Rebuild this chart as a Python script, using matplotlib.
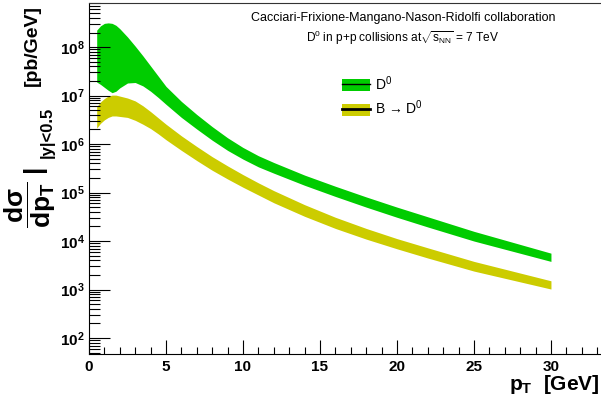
import numpy as np
import matplotlib
matplotlib.use("Agg")
import matplotlib.pyplot as plt
from matplotlib.patches import Patch
from matplotlib.lines import Line2D
from matplotlib.ticker import LogLocator, MultipleLocator, NullFormatter, FixedLocator

plt.rcParams['font.family'] = ['Liberation Sans', 'DejaVu Sans']
plt.rcParams['mathtext.fontset'] = 'custom'
plt.rcParams['mathtext.rm'] = 'Liberation Sans'
plt.rcParams['mathtext.it'] = 'Liberation Sans'
plt.rcParams['mathtext.bf'] = 'Liberation Sans:bold'

# ---- data (log10 of dsigma/dpT in pb/GeV) ----
pt = [0.5, 0.75, 1.0, 1.25, 1.5, 1.75, 2.0, 2.5, 3.0, 3.5, 4.0, 4.5, 5.0, 6.0, 7.0,
      8.0, 9.0, 10.0, 11.0, 12.0, 14.0, 16.0, 18.0, 20.0, 22.0, 25.0, 30.0]
d0_hi_log = [8.35, 8.44, 8.49, 8.50, 8.49, 8.45, 8.38, 8.21, 8.02, 7.82, 7.61, 7.40,
             7.19, 6.88, 6.61, 6.36, 6.13, 5.93, 5.76, 5.62, 5.36, 5.13, 4.91, 4.70,
             4.50, 4.20, 3.75]
d0_lo_log = [7.28, 7.23, 7.17, 7.11, 7.06, 7.09, 7.16, 7.26, 7.27, 7.20, 7.09, 6.96,
             6.82, 6.55, 6.31, 6.08, 5.87, 5.69, 5.53, 5.40, 5.15, 4.92, 4.70, 4.49,
             4.29, 4.00, 3.58]
b_hi_log = [6.77, 6.87, 6.94, 6.99, 7.01, 7.01, 6.99, 6.95, 6.89, 6.79, 6.67, 6.54,
            6.41, 6.17, 5.95, 5.74, 5.55, 5.37, 5.20, 5.04, 4.75, 4.49, 4.26, 4.05,
            3.86, 3.58, 3.18]
b_lo_log = [6.33, 6.43, 6.50, 6.55, 6.58, 6.58, 6.57, 6.55, 6.49, 6.41, 6.32, 6.21,
            6.09, 5.87, 5.66, 5.46, 5.28, 5.11, 4.95, 4.79, 4.51, 4.26, 4.04, 3.84,
            3.65, 3.38, 3.01]

x_major = [0, 5, 10, 15, 20, 25, 30]
y_major = [1e2, 1e3, 1e4, 1e5, 1e6, 1e7, 1e8]
green = '#00cc00'
yellow = '#cccc00'

W, H = 601, 407
fig = plt.figure(figsize=(W / 100, H / 100), dpi=100)
ax = fig.add_axes([89 / W, 53 / H, (W - 89) / W, (354 - 3) / H])

x = np.array(pt)
ax.fill_between(x, 10 ** np.array(d0_lo_log), 10 ** np.array(d0_hi_log),
                color=green, lw=0)
ax.fill_between(x, 10 ** np.array(b_lo_log), 10 ** np.array(b_hi_log),
                color=yellow, lw=0)

ax.set_yscale('log')
ax.set_xlim(0, 33.25)
ax.set_ylim(10 ** 1.67, 10 ** 8.91)

ax.xaxis.set_major_locator(FixedLocator(x_major))
ax.xaxis.set_minor_locator(MultipleLocator(1))
ax.yaxis.set_major_locator(FixedLocator(y_major))
ax.yaxis.set_minor_locator(LogLocator(base=10, subs=np.arange(2, 10), numticks=20))
ax.yaxis.set_minor_formatter(NullFormatter())

ax.tick_params(axis='both', which='both', direction='in', top=False, right=False,
               width=0.8, colors='black')
ax.tick_params(axis='y', which='major', length=15, labelsize=11, pad=3)
ax.tick_params(axis='y', which='minor', length=8)
ax.tick_params(axis='x', which='major', length=10, labelsize=11, pad=4)
ax.tick_params(axis='x', which='minor', length=5)
for lab in ax.get_xticklabels() + ax.get_yticklabels():
    lab.set_fontweight('bold')

ax.spines['right'].set_visible(False)
for s in ['left', 'bottom', 'top']:
    ax.spines[s].set_linewidth(0.8)
ax.spines['top'].set_color('#333333')

# x axis title
fig.text(600 / W, 1 - 384 / H, r'$\mathbf{p_{T}}$  [GeV]', ha='right', va='center',
         fontsize=15, fontweight='bold')

# y axis title, built from pieces
fig.text(30 / W, 1 - 205 / H, r'$\mathbf{\dfrac{d\sigma}{dp_{T}}}$', rotation=90,
         ha='center', va='center', fontsize=19)
fig.text(34 / W, 1 - 168 / H, '|', rotation=90, ha='center', va='center',
         fontsize=19, fontweight='bold')
fig.text(47 / W, 1 - 132 / H, '|y|<0.5', rotation=90, ha='center', va='center',
         fontsize=12, fontweight='bold')
fig.text(32 / W, 1 - 46 / H, '[pb/GeV]', rotation=90, ha='center', va='center',
         fontsize=14, fontweight='bold')

# header texts
fig.text(403 / W, 1 - 18 / H, 'Cacciari-Frixione-Mangano-Nason-Ridolfi collaboration',
         ha='center', va='center', fontsize=9)
fig.text(403 / W, 1 - 38 / H,
         r'D$^{0}$ in p+p collisions at$\sqrt{\mathrm{s}_{\mathrm{NN}}}$ = 7 TeV',
         ha='center', va='center', fontsize=8.6)

# legend
h1 = (Patch(facecolor=green, edgecolor='none'), Line2D([], [], color='black', lw=1))
h2 = (Patch(facecolor=yellow, edgecolor='none'), Line2D([], [], color='black', lw=2))
fig.legend([h1, h2], [r'D$^{0}$', 'B \u2192 D$^{0}$'], loc='upper left',
           bbox_to_anchor=(342 / W, 1 - 74 / H), frameon=False, fontsize=10,
           handlelength=2.0, handleheight=0.95, handletextpad=0.4,
           labelspacing=0.45, borderpad=0, borderaxespad=0)

fig.savefig('out.png', dpi=100)
